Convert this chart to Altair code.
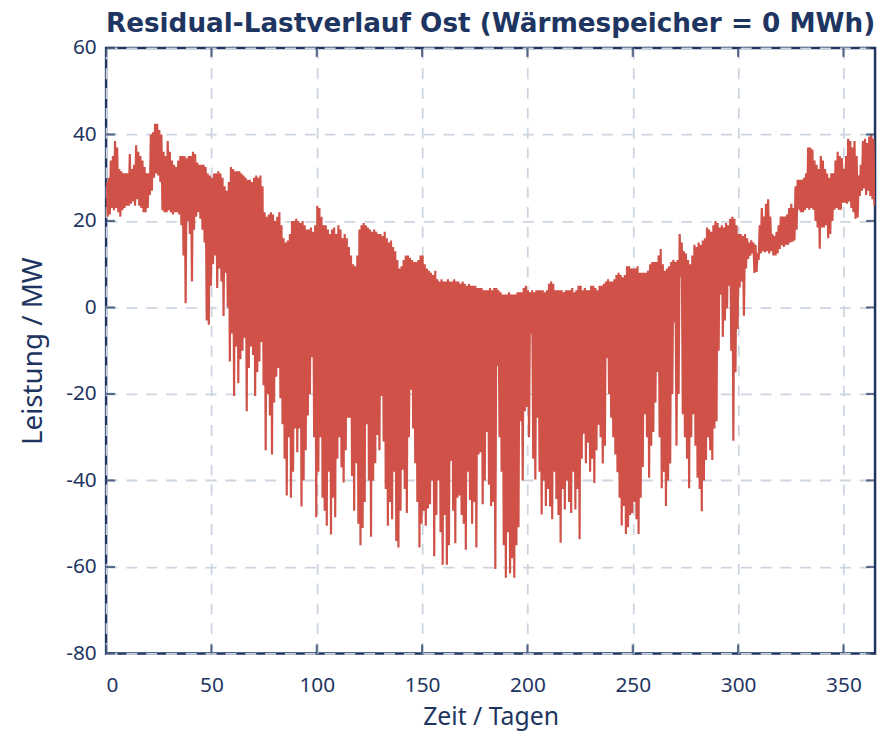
import altair as alt
import pandas as pd

# Daily maximum (upper envelope) of the residual load, MW, days 0..364
upper = [
    29, 30, 34, 35, 38.5, 37, 32, 31.5, 31, 31,
    31, 35.5, 32, 33, 37.5, 36, 35, 34, 32.5, 31,
    31, 40, 40.5, 42.5, 42.5, 41, 40, 36, 35, 38.5,
    36, 34, 33, 32.5, 34, 35, 35, 35, 34.5, 35,
    35, 36, 35.5, 33.5, 33, 33, 33, 32.5, 31, 30.5,
    30, 31, 31, 31.5, 31, 30, 28, 27, 29, 32.5,
    32, 31.5, 31.5, 31.5, 31, 30.5, 30, 29.5, 29.5, 29,
    30, 30.5, 30, 30.5, 28, 22, 21, 21.5, 22, 21.5,
    20, 21, 22, 19, 16, 15, 15.5, 17, 20, 20,
    20.5, 20, 19.5, 20, 19, 18, 18, 18.5, 17.5, 19,
    23.5, 23, 21, 19, 19, 18, 17, 18, 18.5, 17,
    19, 18, 16, 17, 16, 14, 12, 10, 9.5, 12,
    18, 19, 19.5, 19, 18.5, 18, 17.5, 18, 17.5, 17,
    17, 16.5, 17.5, 16, 15, 15.5, 14, 13, 11, 9,
    9.5, 11, 12, 12, 11.5, 11, 10.5, 10.5, 11, 12,
    12, 10, 9, 8.5, 8, 7.5, 8.5, 6.5, 6, 6.5,
    6, 6, 6.5, 6, 6, 6.5, 6, 6, 5.5, 6,
    5.5, 5, 5.5, 5, 5, 5, 4.5, 4.5, 4.5, 4,
    4, 4, 4.5, 4, 4.5, 4.5, 4, 3.5, 3, 3,
    3, 3.5, 3, 3, 3, 3.5, 3.5, 3.5, 4.5, 5,
    4, 3.5, 4, 3.5, 4, 4, 4, 4, 3.5, 4,
    5.5, 6, 5.5, 4, 4, 4, 4, 3.5, 4, 4,
    4, 4.5, 3.5, 4, 5, 5, 4, 4.5, 4, 4,
    5, 5, 4.5, 4, 5, 5, 5.5, 6, 6.5, 6,
    6, 6.5, 7.5, 8, 7.5, 7, 7.5, 9.5, 9.5, 9,
    9, 9, 9.5, 8, 8, 8, 8, 8.5, 10, 10.5,
    10.5, 10.5, 12, 13.5, 10, 8.5, 9, 9.5, 10.5, 11,
    10.5, 11, 17, 15, 13, 12.5, 11, 10, 12, 14.5,
    14, 15, 14.5, 15.5, 16, 18.5, 18, 17.5, 19, 20,
    19.5, 18.5, 19, 18.5, 19.5, 19, 20.5, 21, 20.5, 19,
    17, 17, 16.5, 17, 16, 15, 15.5, 15, 14.5, 12.5,
    19, 23, 21, 24, 25, 21, 17, 16.5, 17.5, 19,
    21, 21, 21, 21.5, 23, 24, 23, 28, 29.5, 29.5,
    29.5, 30, 31, 37, 37, 36.5, 34, 33, 32, 35,
    34, 32, 31, 30, 31, 31, 34, 36, 35, 34.5,
    32, 35, 39, 38.5, 37, 38.5, 35, 30.5, 33, 38.5,
    39, 38, 39.5, 40, 39,
]

# Daily minimum (lower envelope) of the residual load, MW, days 0..364
lower = [
    21, 21.5, 23, 22.5, 23, 22, 21, 22.5, 23, 23.5,
    23.5, 24, 24.5, 23.5, 25, 23.5, 23, 22, 22, 23,
    26, 27, 30, 31, 30.5, 29, 22.5, 22, 22, 22.5,
    22, 21.5, 22, 22, 21.5, 19, 12, 1, 20, 17,
    6, 18, 21, 22, 20.5, 18, 15, -3, -4, 5,
    10, 12, 4.5, 9, 6, -2, 8, 0, -12.5, -6,
    -20.5, -9, -17.5, -12, -10, -7, -24, -14, -9, -11,
    -20.5, -15, -12.5, -8, -18, -33, -20, -25, -34, -22,
    -16, -14, -21, -27, -35, -43.5, -30, -44, -38, -28,
    -33.5, -28, -46, -40, -33, -25, -20, -11.5, -30, -48.5,
    -38, -30, -44, -47, -50.5, -38, -52.5, -44, -48.5, -35,
    -30, -37, -40.5, -33, -25.5, -25.5, -39, -47, -36, -50,
    -55, -51, -45, -27, -40, -53, -40, -36, -29.5, -33,
    -20.5, -31, -42, -50.5, -45, -49, -38, -54, -55.5, -47,
    -37.5, -42, -47.5, -30, -19, -28, -36, -45, -55.5, -50,
    -47, -50.5, -46.5, -45.5, -40, -57.5, -48, -40, -52, -59.5,
    -48, -59.5, -55, -35.5, -47, -54.5, -44, -43.5, -48, -50,
    -56, -38, -44.5, -50, -45, -55.5, -34, -33.5, -45.5, -40,
    -28.8, -41, -45.9, -45, -60.5, -13.5, -30, -38, -55, -62.5,
    -52, -61.5, -58, -62.5, -55, -50.8, -26.3, -40, -24, -23,
    -30, -6, -35, -39.8, -25.5, -38, -47.9, -40, -45.9, -42,
    -46, -49, -38, -44.3, -48, -54.4, -42, -46.7, -40, -45,
    -47.5, -38, -46.7, -42, -53.6, -35, -29.2, -36, -31.2, -38,
    -35, -40.6, -33, -27.1, -30, -36.1, -32, -11.7, -20, -25.5,
    -30, -34, -38.1, -44, -50.4, -45.9, -52.4, -50.8, -48, -47.5,
    -45, -49, -52.4, -44, -36.9, -24.7, -30, -39.4, -32, -28.8,
    -22, -14.9, -30, -41.8, -38, -45.9, -40, -36.1, -20, -3.5,
    -32, -20, 7.1, -24.7, -30, -35, -41.8, -30, -24.7, -32,
    -39.4, -42, -47.1, -40, -35.3, -30, -33, -35.3, -28, -26.3,
    -10, 3, -6.8, -3, -0.2, 5, -10, -30.8, -15, -5,
    4.6, 6, -1.9, 9, 11.2, 12, 12.5, 8, 8.2, 11,
    12.5, 13, 12.8, 13, 12.5, 13, 12, 12, 12.5, 13.5,
    14.4, 14, 14.5, 14.5, 15, 15.2, 15.5, 18, 22.6, 22,
    22, 22.5, 23, 22.6, 23, 22.6, 20, 18.5, 13.6, 18.5,
    18.5, 19, 16, 17, 20, 22.6, 23, 22.6, 22.6, 24.2,
    24.2, 24, 24.5, 23, 22, 20.5, 20.8, 25.8, 27, 27.5,
    26, 27, 25.8, 25, 23.4,
]

x_ticks = [0, 50, 100, 150, 200, 250, 300, 350]
y_ticks = [60, 40, 20, 0, -20, -40, -60, -80]

TITLE = "Residual-Lastverlauf Ost (Wärmespeicher = 0 MWh)"
X_TITLE = "Zeit / Tagen"
Y_TITLE = "Leistung / MW"

NAVY = "#1e3561"
RED = "#cf5147"
GRID = "#cdd5e0"
FONT = "Noto Sans"

W, H = 776, 611

rows = []
for d in range(len(upper)):
    rows.append({"t": d + 0.25, "p": upper[d]})
    rows.append({"t": d + 0.75, "p": lower[d]})
df = pd.DataFrame(rows)

xscale = alt.Scale(domain=[0, 365], nice=False, zero=False)
yscale = alt.Scale(domain=[-80, 60], nice=False, zero=False)

line = alt.Chart(df).mark_line(color=RED, strokeWidth=2.2, clip=True).encode(
    x=alt.X(
        "t:Q",
        scale=xscale,
        title=X_TITLE,
        axis=alt.Axis(
            values=x_ticks,
            ticks=False,
            domain=False,
            labelPadding=21,
            titlePadding=10,
            titleFontSize=25,
            grid=True,
            gridColor=GRID,
            gridDash=[11, 9],
            gridWidth=1.8,
            labelExpr="'' + datum.value",
        ),
    ),
    y=alt.Y(
        "p:Q",
        scale=yscale,
        title=Y_TITLE,
        axis=alt.Axis(
            values=y_ticks,
            ticks=False,
            domain=False,
            labelPadding=10,
            titlePadding=18,
            titleFontSize=28,
            grid=True,
            gridColor=GRID,
            gridDash=[11, 9],
            gridWidth=1.8,
            labelExpr="'' + datum.value",
        ),
    ),
)

xt = pd.DataFrame({"v": x_ticks})
yt = pd.DataFrame({"v": y_ticks})

tick_left = alt.Chart(yt).mark_tick(orient="horizontal", size=9, thickness=2.2, color=NAVY).encode(
    y=alt.Y("v:Q", scale=yscale), x=alt.value(4.5)
)
tick_right = alt.Chart(yt).mark_tick(orient="horizontal", size=9, thickness=2.2, color=NAVY).encode(
    y=alt.Y("v:Q", scale=yscale), x=alt.value(W - 4.5)
)
tick_bottom = alt.Chart(xt).mark_tick(orient="vertical", size=9, thickness=2.2, color=NAVY).encode(
    x=alt.X("v:Q", scale=xscale), y=alt.value(H - 4.5)
)
tick_top = alt.Chart(xt).mark_tick(orient="vertical", size=9, thickness=2.2, color=NAVY).encode(
    x=alt.X("v:Q", scale=xscale), y=alt.value(4.5)
)

chart = (
    alt.layer(line, tick_left, tick_right, tick_bottom, tick_top)
    .properties(
        width=W,
        height=H,
        title=alt.TitleParams(
            TITLE,
            fontSize=26.5,
            fontWeight="bold",
            color=NAVY,
            font="DejaVu Sans",
            anchor="middle",
            offset=0,
        ),
        autosize=alt.AutoSizeParams(type="none"),
        padding={"left": 99, "top": 37, "right": 6, "bottom": 82},
    )
    .configure_view(stroke=NAVY, strokeWidth=2.5)
    .configure_axis(
        labelFont=FONT,
        titleFont=FONT,
        labelFontSize=21,
        labelColor=NAVY,
        titleColor=NAVY,
        titleFontWeight="normal",
    )
)

chart.save("out.html", embed_options={"renderer": "svg", "actions": False})
